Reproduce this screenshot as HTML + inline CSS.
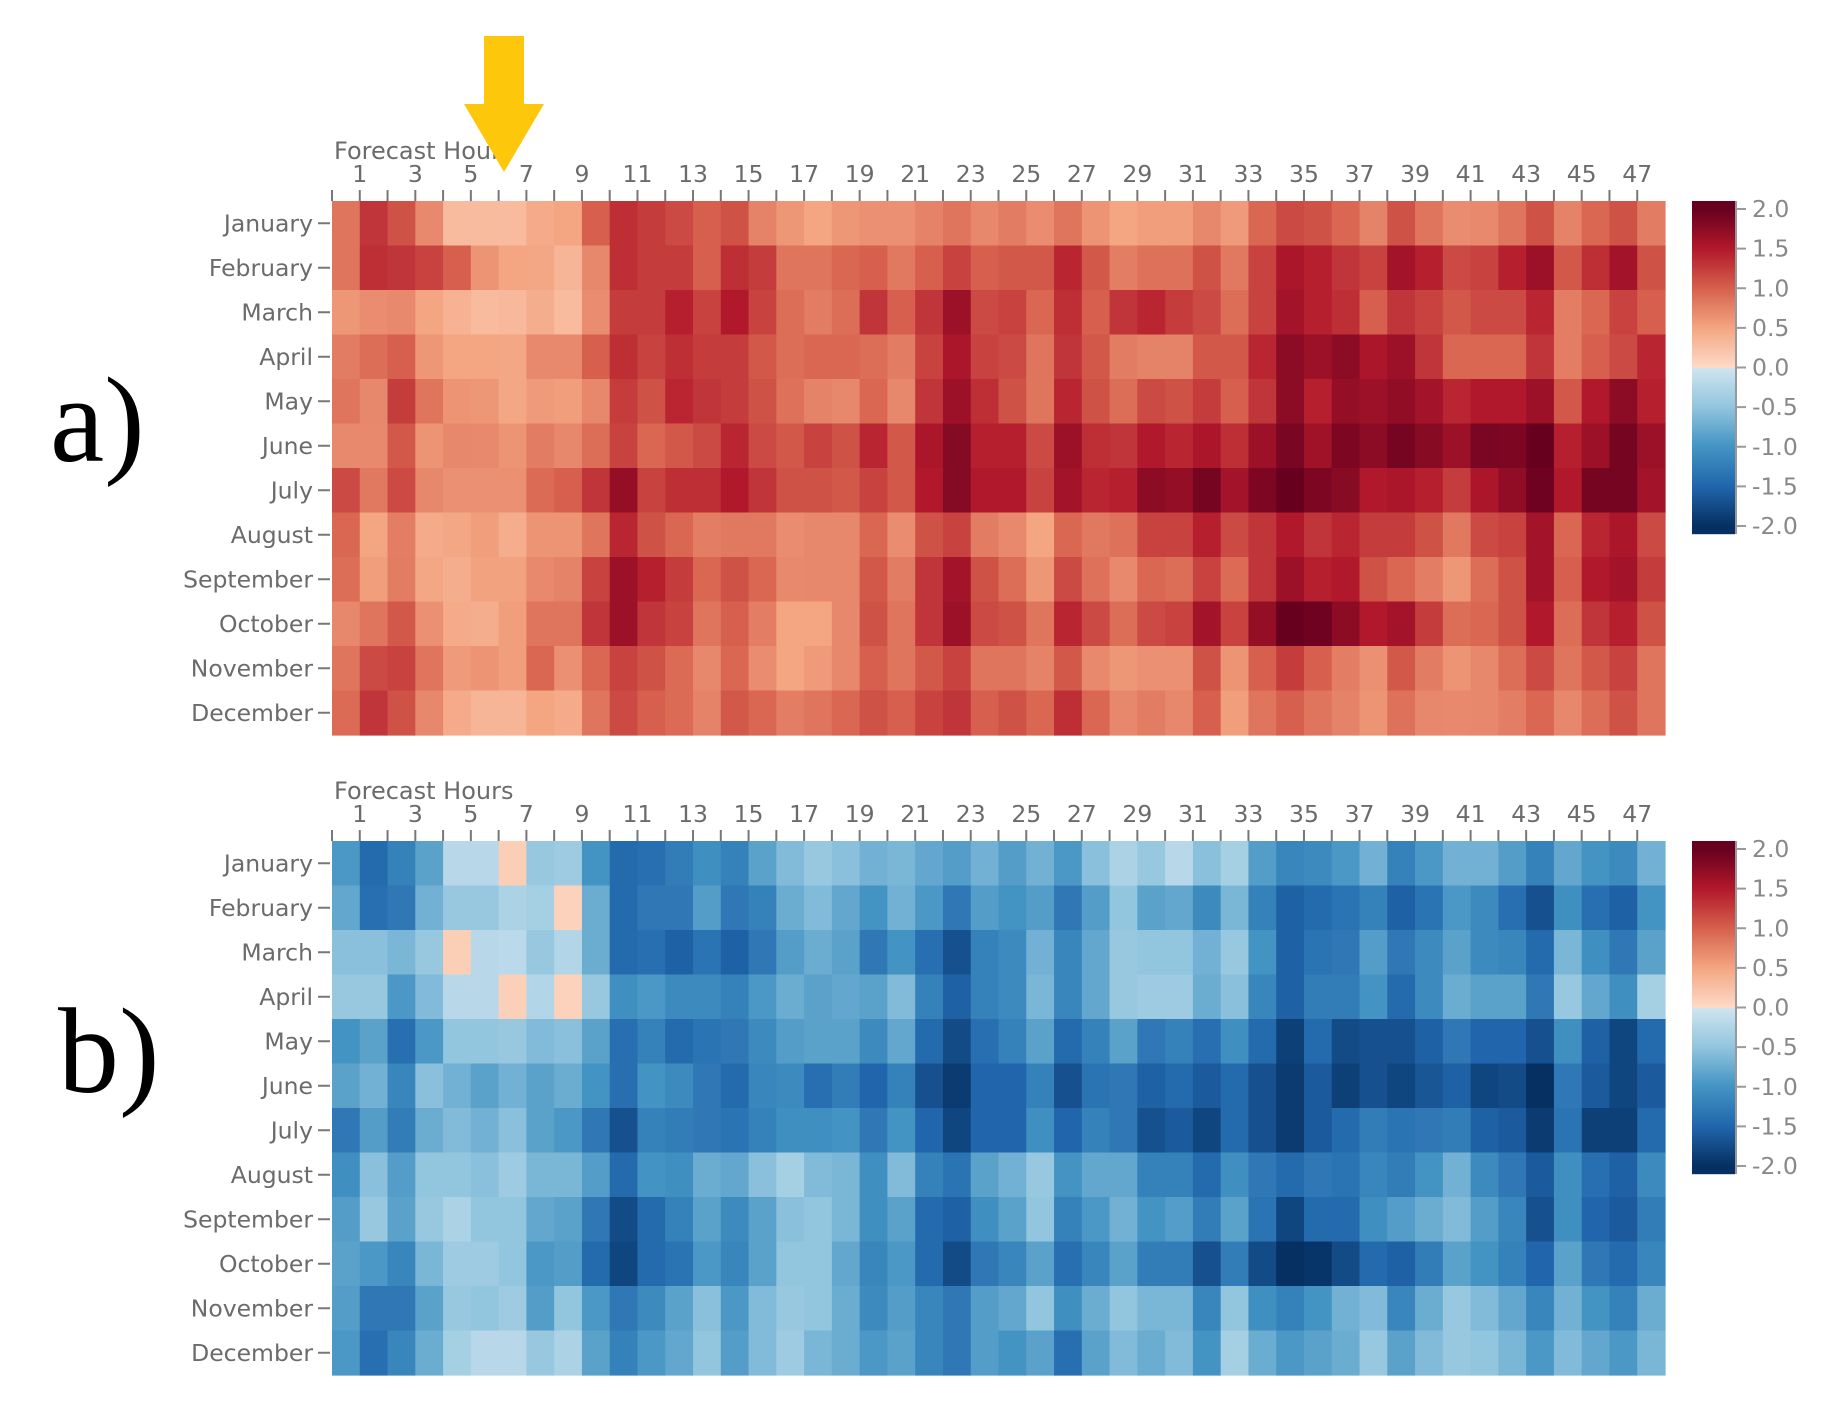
<!DOCTYPE html>
<html><head><meta charset="utf-8">
<style>
html,body{margin:0;padding:0;background:#fff;}
svg{display:block;}
text{font-family:"DejaVu Sans","Liberation Sans",sans-serif;}
</style></head>
<body>
<svg id="chart" width="1840" height="1412" viewBox="0 0 1840 1412" xmlns="http://www.w3.org/2000/svg">
<text x="50" y="461" font-size="122" fill="#000" style="font-family:'Liberation Serif',serif">a)</text>
<text x="58" y="1092" font-size="122" fill="#000" style="font-family:'Liberation Serif',serif">b)</text>
</svg>
<script>
const months = ["January","February","March","April","May","June","July","August","September","October","November","December"];
const hourTicks = [1,3,5,7,9,11,13,15,17,19,21,23,25,27,29,31,33,35,37,39,41,43,45,47];
const colorbarTicks = [2.0,1.5,1.0,0.5,0.0,-0.5,-1.0,-1.5,-2.0];
const biasA = [
[0.85,1.3,1.1,0.7,0.3,0.3,0.3,0.45,0.5,1.0,1.35,1.25,1.15,1.0,1.1,0.75,0.6,0.5,0.6,0.65,0.65,0.75,0.85,0.72, 0.8,0.68,0.85,0.62,0.5,0.55,0.55,0.72,0.58,0.95,1.15,1.1,0.95,0.75,1.1,0.85,0.68,0.7,0.85,1.1,0.75,0.95,1.1,0.8],
[0.85,1.35,1.3,1.2,1.0,0.62,0.5,0.48,0.35,0.72,1.35,1.25,1.25,1.0,1.35,1.25,0.85,0.85,0.95,1.0,0.82,1.0,1.2,1.0, 1.05,1.05,1.4,1.05,0.78,0.88,0.88,1.1,0.82,1.2,1.55,1.45,1.3,1.2,1.6,1.45,1.15,1.2,1.45,1.65,1.05,1.35,1.6,1.1],
[0.6,0.68,0.7,0.5,0.38,0.3,0.32,0.42,0.3,0.68,1.25,1.25,1.45,1.2,1.5,1.2,0.9,0.8,0.9,1.3,1.0,1.3,1.65,1.15, 1.2,0.95,1.35,1.0,1.3,1.4,1.25,1.15,0.9,1.2,1.6,1.45,1.35,1.0,1.3,1.2,1.05,1.15,1.15,1.4,0.78,0.95,1.2,1.0],
[0.8,0.9,1.0,0.6,0.5,0.5,0.48,0.7,0.7,1.0,1.35,1.2,1.35,1.25,1.25,1.05,0.9,0.95,0.95,0.9,0.8,1.2,1.55,1.2, 1.15,0.85,1.3,1.05,0.8,0.75,0.75,1.05,1.05,1.4,1.75,1.65,1.75,1.55,1.65,1.3,0.95,0.95,0.95,1.3,0.78,1.0,1.15,1.4],
[0.85,0.72,1.25,0.85,0.62,0.6,0.48,0.58,0.55,0.72,1.25,1.1,1.4,1.3,1.25,1.1,0.88,0.75,0.72,0.95,0.72,1.3,1.65,1.35, 1.1,0.85,1.4,1.1,0.9,1.15,1.1,1.25,1.0,1.3,1.75,1.45,1.7,1.65,1.72,1.6,1.4,1.5,1.5,1.65,1.05,1.5,1.75,1.45],
[0.7,0.7,1.05,0.62,0.72,0.7,0.62,0.8,0.72,0.9,1.2,0.95,1.05,1.15,1.4,1.15,1.05,1.2,1.1,1.4,1.05,1.55,1.8,1.45, 1.45,1.15,1.65,1.35,1.3,1.5,1.4,1.55,1.35,1.65,1.88,1.62,1.85,1.75,1.9,1.78,1.65,1.88,1.85,2.0,1.45,1.65,1.9,1.65],
[1.15,0.82,1.15,0.72,0.65,0.65,0.65,0.92,1.0,1.3,1.7,1.2,1.35,1.35,1.5,1.3,1.1,1.1,1.05,1.2,1.05,1.5,1.8,1.5, 1.5,1.2,1.6,1.4,1.45,1.75,1.7,1.9,1.6,1.85,2.0,1.85,1.78,1.5,1.55,1.45,1.25,1.55,1.72,1.95,1.5,1.9,1.9,1.6],
[0.95,0.5,0.78,0.45,0.48,0.55,0.42,0.62,0.62,0.85,1.4,1.1,0.95,0.78,0.82,0.82,0.68,0.72,0.72,0.95,0.68,1.1,1.2,0.8, 0.7,0.5,0.95,0.82,0.88,1.2,1.2,1.45,1.15,1.3,1.5,1.3,1.4,1.25,1.25,1.1,0.82,1.15,1.2,1.6,0.95,1.4,1.55,1.15],
[0.9,0.55,0.8,0.48,0.42,0.52,0.52,0.7,0.75,1.2,1.65,1.45,1.25,0.95,1.1,0.95,0.7,0.72,0.72,1.05,0.8,1.3,1.6,1.1, 0.9,0.6,1.15,0.88,0.7,0.95,0.9,1.2,0.92,1.3,1.65,1.45,1.5,1.1,0.95,0.78,0.6,0.9,1.1,1.6,1.0,1.5,1.6,1.25],
[0.72,0.85,1.05,0.65,0.45,0.42,0.55,0.85,0.85,1.3,1.65,1.3,1.2,0.85,1.0,0.78,0.5,0.5,0.72,1.1,0.85,1.3,1.65,1.15, 1.1,0.85,1.4,1.15,0.9,1.15,1.2,1.6,1.2,1.7,2.0,1.95,1.75,1.5,1.6,1.25,0.9,0.95,1.1,1.5,0.9,1.3,1.45,1.1],
[0.85,1.15,1.2,0.85,0.58,0.62,0.55,0.95,0.65,0.95,1.2,1.1,0.92,0.72,0.95,0.68,0.5,0.58,0.72,1.0,0.85,1.05,1.2,0.85, 0.85,0.75,1.05,0.7,0.6,0.65,0.65,1.1,0.62,1.0,1.25,1.0,0.78,0.65,1.05,0.8,0.62,0.72,0.9,1.15,0.85,1.05,1.2,0.85],
[0.92,1.3,1.1,0.72,0.45,0.35,0.35,0.5,0.45,0.85,1.15,1.0,0.92,0.75,1.05,0.95,0.78,0.85,0.95,1.1,1.0,1.2,1.3,1.0, 1.1,0.95,1.35,0.95,0.72,0.8,0.72,1.0,0.55,0.85,1.0,0.85,0.75,0.62,0.88,0.72,0.7,0.72,0.78,0.95,0.72,0.9,1.1,0.85]
];
const biasB = [
[-0.95,-1.45,-1.2,-0.85,-0.2,-0.2,0.12,-0.45,-0.4,-1.0,-1.45,-1.4,-1.25,-1.05,-1.2,-0.85,-0.6,-0.45,-0.55,-0.7,-0.65,-0.8,-0.9,-0.7, -0.9,-0.7,-0.95,-0.55,-0.3,-0.45,-0.2,-0.55,-0.35,-0.9,-1.15,-1.1,-0.95,-0.7,-1.2,-0.95,-0.7,-0.7,-0.9,-1.2,-0.8,-1.0,-1.1,-0.7],
[-0.8,-1.4,-1.3,-0.7,-0.45,-0.45,-0.3,-0.35,0.08,-0.75,-1.45,-1.3,-1.3,-0.9,-1.3,-1.2,-0.75,-0.6,-0.8,-1.0,-0.7,-0.95,-1.3,-0.9, -1.0,-0.9,-1.3,-0.9,-0.5,-0.85,-0.8,-1.1,-0.65,-1.2,-1.55,-1.45,-1.35,-1.2,-1.55,-1.35,-0.95,-1.1,-1.4,-1.7,-1.05,-1.4,-1.55,-1.0],
[-0.55,-0.55,-0.65,-0.45,0.12,-0.2,-0.18,-0.45,-0.25,-0.75,-1.45,-1.4,-1.55,-1.35,-1.55,-1.3,-0.9,-0.75,-0.85,-1.3,-1.0,-1.4,-1.7,-1.2, -1.1,-0.7,-1.15,-0.8,-0.45,-0.5,-0.5,-0.7,-0.45,-1.0,-1.55,-1.35,-1.3,-0.9,-1.3,-1.1,-0.85,-1.1,-1.15,-1.45,-0.65,-1.05,-1.3,-0.85],
[-0.45,-0.45,-0.95,-0.6,-0.2,-0.2,0.1,-0.25,0.08,-0.45,-1.05,-0.95,-1.1,-1.1,-1.2,-0.95,-0.75,-0.85,-0.8,-0.85,-0.6,-1.2,-1.55,-1.2, -1.1,-0.65,-1.15,-0.8,-0.45,-0.4,-0.4,-0.75,-0.55,-1.15,-1.55,-1.25,-1.25,-1.0,-1.45,-1.1,-0.75,-0.85,-0.85,-1.3,-0.45,-0.8,-1.05,-0.35],
[-1.0,-0.85,-1.4,-0.95,-0.5,-0.5,-0.45,-0.6,-0.55,-0.85,-1.4,-1.2,-1.45,-1.35,-1.3,-1.1,-0.9,-0.85,-0.85,-1.1,-0.8,-1.45,-1.75,-1.4, -1.2,-0.85,-1.45,-1.2,-0.85,-1.3,-1.2,-1.4,-1.05,-1.45,-1.85,-1.45,-1.75,-1.7,-1.7,-1.55,-1.3,-1.5,-1.5,-1.7,-1.05,-1.55,-1.8,-1.45],
[-0.85,-0.7,-1.15,-0.55,-0.7,-0.85,-0.7,-0.85,-0.75,-1.0,-1.4,-1.0,-1.1,-1.3,-1.45,-1.15,-1.1,-1.4,-1.25,-1.5,-1.2,-1.7,-1.9,-1.5, -1.5,-1.2,-1.7,-1.35,-1.3,-1.55,-1.45,-1.6,-1.45,-1.7,-1.9,-1.6,-1.85,-1.7,-1.8,-1.65,-1.55,-1.8,-1.75,-2.0,-1.3,-1.6,-1.8,-1.6],
[-1.3,-0.9,-1.25,-0.75,-0.6,-0.7,-0.55,-0.85,-0.95,-1.3,-1.7,-1.2,-1.25,-1.3,-1.35,-1.2,-1.05,-1.05,-1.0,-1.3,-1.0,-1.5,-1.8,-1.5, -1.5,-1.05,-1.5,-1.2,-1.3,-1.7,-1.6,-1.8,-1.45,-1.7,-1.9,-1.6,-1.45,-1.25,-1.35,-1.3,-1.25,-1.55,-1.6,-1.9,-1.35,-1.85,-1.85,-1.45],
[-1.05,-0.55,-0.9,-0.5,-0.5,-0.55,-0.4,-0.65,-0.65,-0.9,-1.45,-1.0,-1.05,-0.75,-0.8,-0.55,-0.35,-0.6,-0.65,-1.05,-0.6,-1.2,-1.35,-0.85, -0.7,-0.45,-1.0,-0.8,-0.8,-1.2,-1.2,-1.45,-1.05,-1.3,-1.45,-1.3,-1.35,-1.15,-1.25,-1.0,-0.7,-1.1,-1.3,-1.6,-1.05,-1.4,-1.55,-1.1],
[-0.9,-0.45,-0.85,-0.45,-0.3,-0.5,-0.5,-0.8,-0.85,-1.3,-1.75,-1.45,-1.2,-0.85,-1.1,-0.85,-0.55,-0.5,-0.65,-1.05,-0.85,-1.45,-1.55,-1.05, -0.85,-0.5,-1.2,-0.95,-0.7,-1.0,-0.9,-1.25,-0.85,-1.35,-1.8,-1.45,-1.45,-1.05,-0.9,-0.75,-0.6,-0.9,-1.15,-1.7,-1.05,-1.5,-1.6,-1.25],
[-0.85,-0.95,-1.15,-0.65,-0.4,-0.4,-0.5,-0.95,-0.9,-1.45,-1.8,-1.45,-1.35,-0.95,-1.15,-0.85,-0.5,-0.5,-0.8,-1.15,-0.95,-1.45,-1.75,-1.3, -1.15,-0.85,-1.4,-1.15,-0.85,-1.25,-1.25,-1.7,-1.25,-1.75,-2.0,-1.95,-1.75,-1.45,-1.55,-1.25,-0.85,-1.0,-1.2,-1.5,-0.85,-1.3,-1.45,-1.15],
[-0.9,-1.3,-1.3,-0.85,-0.45,-0.5,-0.4,-0.9,-0.5,-0.95,-1.3,-1.1,-0.85,-0.55,-0.95,-0.6,-0.45,-0.5,-0.75,-1.1,-0.9,-1.15,-1.3,-0.9, -0.8,-0.5,-1.05,-0.75,-0.5,-0.65,-0.65,-1.15,-0.5,-1.05,-1.2,-1.0,-0.7,-0.6,-1.15,-0.75,-0.45,-0.6,-0.8,-1.15,-0.7,-1.0,-1.2,-0.75],
[-0.95,-1.4,-1.15,-0.75,-0.35,-0.2,-0.2,-0.45,-0.3,-0.85,-1.2,-0.95,-0.8,-0.5,-0.9,-0.6,-0.4,-0.65,-0.75,-0.95,-0.85,-1.15,-1.3,-0.9, -1.0,-0.85,-1.4,-0.85,-0.6,-0.75,-0.6,-1.0,-0.35,-0.75,-0.95,-0.85,-0.75,-0.45,-0.85,-0.6,-0.45,-0.5,-0.65,-0.95,-0.6,-0.8,-0.95,-0.65]
];

const NS = "http://www.w3.org/2000/svg";
const svg = document.getElementById('chart');
const posStops = [[0,[253,219,199]],[0.5,[244,165,130]],[1.0,[214,96,77]],[1.5,[178,24,43]],[2.0,[103,0,31]]];
const negStops = [[0,[209,229,240]],[0.5,[146,197,222]],[1.0,[67,147,195]],[1.5,[33,102,172]],[2.0,[5,48,97]]];
function color(v){
  const st = v >= 0 ? posStops : negStops;
  let a = Math.min(2, Math.abs(v));
  for (let i=0;i<st.length-1;i++){
    if (a <= st[i+1][0]){
      const t = (a - st[i][0])/(st[i+1][0]-st[i][0]);
      const c = st[i][1].map((x,j)=>Math.round(x + t*(st[i+1][1][j]-x)));
      return 'rgb('+c.join(',')+')';
    }
  }
  return 'rgb('+st[st.length-1][1].join(',')+')';
}
function el(tag, attrs, parent){
  const e = document.createElementNS(NS, tag);
  for (const k in attrs) e.setAttribute(k, attrs[k]);
  (parent||svg).appendChild(e);
  return e;
}
const X0 = 332, X1 = 1665, NCOL = 48, NROW = 12;
const cw = (X1 - X0)/NCOL;
function xCell(c){ return X0 + c*cw; }
function xTick(h){ return X0 + h*cw; }
const FS = 23.5;

function drawPanel(data, top, key){
  const bottom = top + 534;
  const rh = (bottom - top)/NROW;
  const yRow = r => top + r*rh;
  const g = el('g', {});
  
  
  data.forEach((row, r) => {
    row.forEach((v, c) => {
      const rect = el('rect', {x: xCell(c).toFixed(2), y: yRow(r).toFixed(2), width: (cw+0.6).toFixed(2), height: (rh+0.6).toFixed(2), fill: color(v)}, g);
      
      
    });
  });
  const ax = el('g', {});
  
  
  for (let k=0;k<NCOL;k++){
    el('line', {x1: xTick(k), x2: xTick(k), y1: top-11, y2: top, stroke: '#777', 'stroke-width': 2}, ax);
  }
  hourTicks.forEach(h => {
    const t = el('text', {x: xTick(h), y: top-19, 'text-anchor': 'middle', 'font-size': FS, fill: '#6b6b6b'}, ax);
    t.textContent = h;
    
    
  });
  const title = el('text', {x: 334, y: top-42, 'font-size': 24, fill: '#6b6b6b'}, ax);
  title.textContent = 'Forecast Hours';
  
  
  const ay = el('g', {});
  
  
  months.forEach((m, r) => {
    const yc = yRow(r) + rh/2;
    el('line', {x1: 318, x2: 330, y1: yc, y2: yc, stroke: '#777', 'stroke-width': 2}, ay);
    const t = el('text', {x: 313, y: yc + 8, 'text-anchor': 'end', 'font-size': FS, fill: '#6b6b6b'}, ay);
    t.textContent = m;
    
    
  });
  const cb = el('g', {});
  
  
  const cbTop = top, cbBot = top + 333;
  const vy = v => top + 166.5 - v*79.25;
  for (let y = cbTop; y < cbBot; y++){
    let v = (top + 166.5 - (y+0.5))/79.25;
    v = Math.max(-2, Math.min(2, v));
    el('rect', {x: 1692, y: y, width: 43, height: 1.2, fill: color(v === 0 ? 0.0001 : v)}, cb);
  }
  el('line', {x1: 1736, x2: 1736, y1: cbTop, y2: cbBot, stroke: '#999', 'stroke-width': 2}, cb);
  colorbarTicks.forEach(v => {
    const y = vy(v);
    el('line', {x1: 1736, x2: 1746, y1: y, y2: y, stroke: '#999', 'stroke-width': 2}, cb);
    const t = el('text', {x: 1752, y: y + 8, 'font-size': FS, fill: '#888'}, cb);
    t.textContent = v.toFixed(1);
    
    
  });
}
drawPanel(biasA, 201, 'a');
drawPanel(biasB, 841, 'b');

const arrow = el('polygon', {points: '484,36 524,36 524,104 544,104 504,172 464,104 484,104', fill: '#fdc70c'});


</script>
</body></html>
